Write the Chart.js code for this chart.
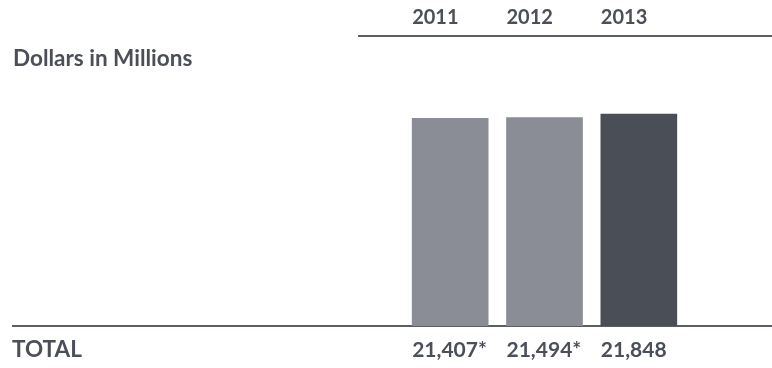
<!DOCTYPE html>
<html>
<head>
<meta charset="utf-8">
<script src="https://cdn.jsdelivr.net/npm/chart.js@4/dist/chart.umd.min.js"></script>
<style>
html,body{margin:0;padding:0;background:#fff;}
#wrap{position:relative;width:772px;height:368px;}
</style>
</head>
<body>
<div id="wrap"><canvas id="c" width="772" height="368"></canvas></div>
<script>
const categories = ['2011', '2012', '2013'];
const totals = [21407, 21494, 21848];
const totalLabels = ['21,407*', '21,494*', '21,848'];
const unitLabel = 'Dollars in Millions';
const rowLabel = 'TOTAL';

const TEXT = '#4b4f58';

const decor = {
  id: 'decor',
  beforeDatasetsDraw(chart) {
    const ctx = chart.ctx;
    ctx.save();
    ctx.fillStyle = '#5b5e66';
    ctx.fillRect(358, 35, chart.width - 358, 2);
    ctx.fillRect(12, 325, chart.width - 12, 2);
    ctx.restore();
  },
  afterDatasetsDraw(chart) {
    const ctx = chart.ctx;
    const meta = chart.getDatasetMeta(0);
    ctx.save();
    ctx.fillStyle = TEXT;
    ctx.textBaseline = 'alphabetic';
    ctx.textAlign = 'left';
    ctx.font = '700 22.5px Lato';
    ctx.fillText(unitLabel, 13, 66);
    ctx.fillText(rowLabel, 12, 357);
    meta.data.forEach((bar, i) => {
      const left = bar.x - bar.width / 2;
      ctx.font = '700 20px Lato';
      ctx.fillText(categories[i], left, 24);
      ctx.font = '700 21px Lato';
      ctx.fillText(totalLabels[i], left, 357);
    });
    ctx.restore();
  }
};

new Chart(document.getElementById('c'), {
  type: 'bar',
  data: {
    labels: categories,
    datasets: [{
      data: totals,
      backgroundColor: ['#8a8d95', '#8a8d95', '#4a4e57'],
      borderWidth: 0,
      barThickness: 76
    }]
  },
  options: {
    responsive: false,
    animation: false,
    devicePixelRatio: 1,
    layout: { padding: { left: 403, right: 86, top: 35, bottom: 42 } },
    plugins: { legend: { display: false }, tooltip: { enabled: false } },
    scales: {
      x: { display: false },
      y: { display: false, min: 0, max: 30000 }
    }
  },
  plugins: [decor]
});
</script>
</body>
</html>
